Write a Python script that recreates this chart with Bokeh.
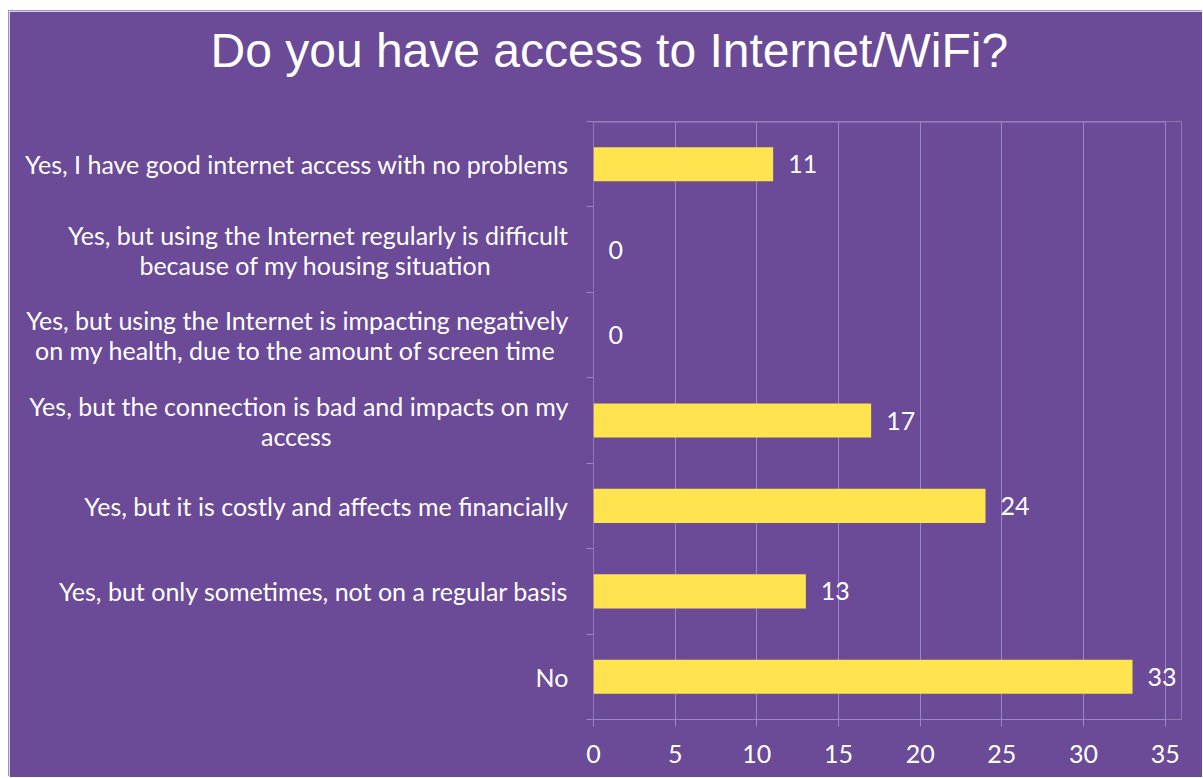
from bokeh.plotting import figure
from bokeh.models import Range1d, LinearAxis, FixedTicker, ColumnDataSource, LabelSet, Title
from bokeh.core.properties import value
from bokeh.embed import file_html
from bokeh.resources import INLINE

# ---- data (top-to-bottom order as in the chart) ----
categories = [
    "Yes, I have good internet access with no problems",
    "Yes, but using the Internet regularly is difficult\nbecause of my housing situation",
    "Yes, but using the Internet is impacting negatively\non my health, due to the amount of screen time",
    "Yes, but the connection is bad and impacts on my\naccess",
    "Yes, but it is costly and affects me financially",
    "Yes, but only sometimes, not on a regular basis",
    "No",
]
counts = [11, 0, 0, 17, 24, 13, 33]
x_ticks = [0, 5, 10, 15, 20, 25, 30, 35]
title_text = "Do you have access to Internet/WiFi?"

# ---- styling ----
BG = "#6B4A98"
GRID = "#9A85C6"
BAR = "#FFE34F"
LABEL_FONT = "Lato"
LABEL_SIZE = "25px"
# trailing no-break spaces that centre the last line of a wrapped label under its first line
wrap_pad = [0, 12, 2, 37, 0, 0, 0]
X_ROOM = 1.0   # extra room right of the last gridline so value labels are not clipped

def display_label(text, pad):
    lines = text.split("\n")
    if len(lines) > 1:
        lines[-1] = lines[-1] + "\u00a0" * pad
    return "\n".join(lines)

n = len(categories)
ypos = [n - i - 0.5 for i in range(n)]          # slot centres, first category on top
src = ColumnDataSource(dict(y=ypos, val=counts, txt=[str(v) for v in counts]))

p = figure(width=1193, height=766, output_backend="svg", toolbar_location=None,
           y_range=Range1d(0, n), x_range=Range1d(x_ticks[0], x_ticks[-1] + X_ROOM),
           y_axis_location=None, x_axis_location=None,
           min_border_left=584, min_border_right=21, min_border_top=110, min_border_bottom=58,
           background_fill_color=BG, border_fill_color=BG, outline_line_color=None)
p.margin = (11, 0, 0, 9)
p.styles = {"box-shadow": "-1px -1px 0 0 #A48FCF"}

# category separator ticks
bounds = list(range(n + 1))
tick_axis = LinearAxis(ticker=FixedTicker(ticks=bounds),
                       major_label_overrides={b: "" for b in bounds},
                       axis_line_color=None, major_tick_line_color=GRID,
                       major_tick_out=7, major_tick_in=0, minor_tick_line_color=None,
                       major_label_standoff=0)
p.add_layout(tick_axis, "left")

label_axis = LinearAxis(ticker=FixedTicker(ticks=ypos),
                        major_label_overrides={y: display_label(c, k)
                                               for y, c, k in zip(ypos, categories, wrap_pad)},
                        axis_line_color=None, major_tick_line_color=None,
                        major_tick_out=0, major_tick_in=0, minor_tick_line_color=None,
                        major_label_standoff=18,
                        major_label_text_color="white",
                        major_label_text_font=LABEL_FONT,
                        major_label_text_font_size=LABEL_SIZE,
                        major_label_text_line_height=1.0)
p.add_layout(label_axis, "left")

xaxis = LinearAxis(ticker=FixedTicker(ticks=x_ticks), bounds=(x_ticks[0], x_ticks[-1]),
                   axis_line_color=GRID, major_tick_line_color=GRID,
                   major_tick_out=7, major_tick_in=0, minor_tick_line_color=None,
                   major_label_standoff=18, major_label_text_color="white",
                   major_label_text_font=LABEL_FONT, major_label_text_font_size=LABEL_SIZE)
p.add_layout(xaxis, "below")

# invisible spacer between plot area and title (one background-coloured tick in the free margin)
spacer_tick = x_ticks[-1] + X_ROOM / 2
spacer = LinearAxis(ticker=FixedTicker(ticks=[spacer_tick]),
                    major_label_overrides={spacer_tick: ""},
                    axis_line_color=None, major_tick_line_color=BG,
                    major_tick_out=44, major_tick_in=0, minor_tick_line_color=None,
                    major_label_standoff=0)
p.add_layout(spacer, "above")

p.xgrid.ticker = FixedTicker(ticks=x_ticks)
p.xgrid.grid_line_color = GRID
p.ygrid.grid_line_color = None

# top edge of the plot area
p.segment(x0=[x_ticks[0]], x1=[x_ticks[-1]], y0=[n], y1=[n], line_color=GRID, line_width=2)

p.hbar(y="y", right="val", left=0, height=0.4, source=src,
       fill_color=BAR, line_color=None)

p.add_layout(LabelSet(x="val", y="y", text="txt", source=src, x_offset=15,
                      text_baseline="middle", text_align="left", text_color="white",
                      text_font=value(LABEL_FONT), text_font_size=value(LABEL_SIZE)))

p.title = Title(text=title_text, align="left", offset=-383, standoff=2,
                vertical_align="bottom", text_font="Liberation Sans",
                text_font_size="48px", text_font_style="normal", text_color="white")

open("out.html", "w").write(file_html(p, INLINE))
